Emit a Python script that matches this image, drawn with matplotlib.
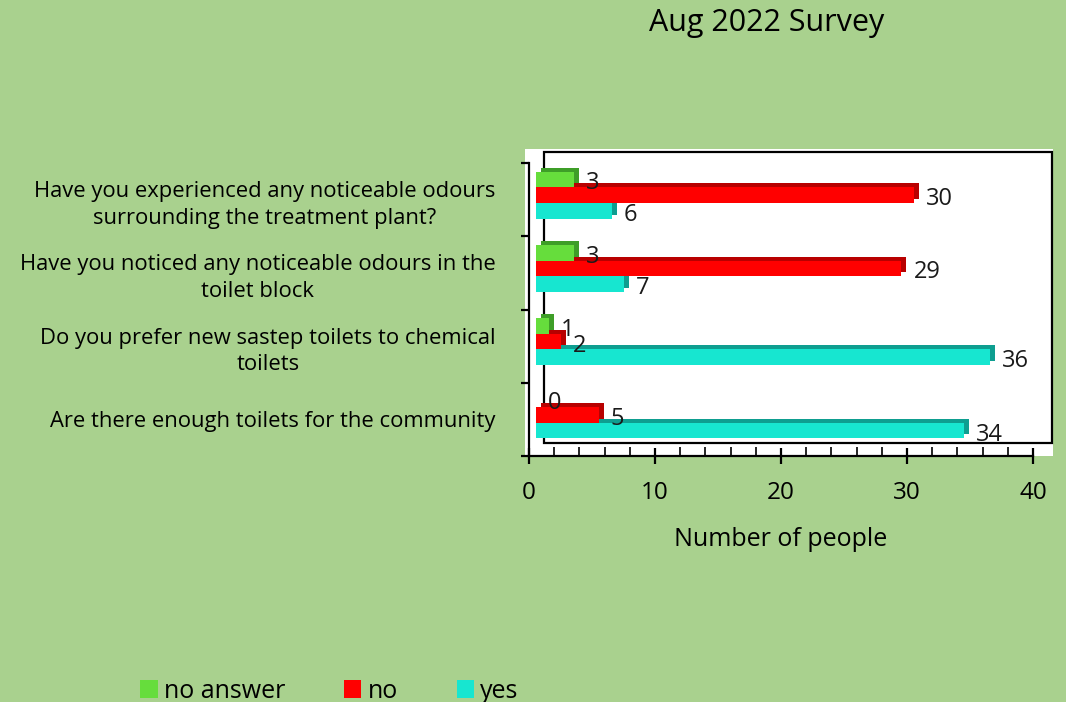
import matplotlib
matplotlib.use("Agg")
import matplotlib.pyplot as plt
from matplotlib.patches import Rectangle, Patch
from matplotlib.transforms import ScaledTranslation
import numpy as np

plt.rcParams['font.family'] = ['Open Sans', 'DejaVu Sans']

# ---------------- data ----------------
questions = [
    "Have you experienced any noticeable odours\nsurrounding the treatment plant?",
    "Have you noticed any noticeable odours in the\ntoilet block",
    "Do you prefer new sastep toilets to chemical\ntoilets",
    "Are there enough toilets for the community",
]
series_names = ["no answer", "no", "yes"]
no_answer = [3, 3, 1, 0]
no = [30, 29, 2, 5]
yes = [6, 7, 36, 34]
x_ticks = [0, 10, 20, 30, 40]
title = "Aug 2022 Survey"
x_label = "Number of people"

# ---------------- style ----------------
BG = '#A9D18E'
front_colors = ['#66DD3C', '#FF0000', '#17E6D0']
side_colors = ['#3E9E28', '#B80000', '#0E9E90']

W, H = 1066, 702
fig = plt.figure(figsize=(W / 100, H / 100), dpi=100, facecolor=BG)


def fx(x):
    return x / W


def fy(y):
    return 1 - y / H


# white plot area and back wall
fig.patches.append(Rectangle((fx(525), fy(456)), (1053 - 525) / W, (456 - 149) / H,
                             transform=fig.transFigure, fc='white', ec='none', zorder=-2))
fig.patches.append(Rectangle((fx(544), fy(443)), (1052 - 544) / W, (443 - 152) / H,
                             transform=fig.transFigure, fc='none', ec='black', lw=1.6, zorder=-1))

# main (front) axes
ax = fig.add_axes([fx(529), fy(456), 504 / W, 293 / H])
ax.set_zorder(1)
ax.set_facecolor('none')
ax.set_xlim(0, 40)
ax.set_ylim(len(questions) - 0.5, -0.5)
for s in ['top', 'right']:
    ax.spines[s].set_visible(False)
for s in ['left', 'bottom']:
    ax.spines[s].set_linewidth(1.6)
ax.set_xticks(x_ticks)
ax.set_xticks(np.arange(0, 41, 2), minor=True)
ax.tick_params(axis='x', which='major', direction='inout', length=12, width=1.6,
               labelsize=17.5, pad=12)
ax.tick_params(axis='x', which='minor', direction='in', length=6.5, width=1.2)
ax.set_yticks(np.arange(-0.5, len(questions), 1.0))
ax.set_yticklabels([])
ax.set_yticks(np.arange(len(questions)), minor=True)
ax.set_yticklabels(questions, minor=True, fontsize=15.8, multialignment='center',
                   linespacing=1.35)
ax.tick_params(axis='y', which='major', direction='out', length=6, width=1.6)
ax.tick_params(axis='y', which='minor', length=0, pad=24)
ax.set_xlabel(x_label, fontsize=18, labelpad=16)

# bar plane axes (3D-like depth, slightly shifted)
axb = fig.add_axes([fx(536), fy(456 - 4.5), 504 / W, 293 / H])
axb.set_zorder(2)
axb.set_xlim(0, 40)
axb.set_ylim(len(questions) - 0.5, -0.5)
axb.axis('off')
axb.patch.set_alpha(0)

h = 0.214
pos = np.arange(len(questions))
all_vals = [no_answer, no, yes]
shift = ScaledTranslation(5 / 100, 4 / 100, fig.dpi_scale_trans)
handles = []
# draw bottom series first so upper bars sit in front of lower bars' top faces
for i in [2, 1, 0]:
    vals = all_vals[i]
    y = pos + (i - 1) * h
    z = 2 * (3 - i)
    axb.barh(y, vals, height=h, color=side_colors[i], zorder=z,
             transform=axb.transData + shift)
    axb.barh(y, vals, height=h, color=front_colors[i], zorder=z + 1)
    for yy, v in zip(y, vals):
        axb.annotate(str(v), xy=(v, yy), xytext=(12, -4), textcoords='offset pixels',
                     ha='left', va='center', fontsize=17, color='#1a1a1a',
                     zorder=10, annotation_clip=False)

for i in range(3):
    handles.append(Patch(facecolor=front_colors[i], edgecolor='none', label=series_names[i]))

fig.text(fx(767), fy(23), title, ha='center', va='center', fontsize=22)

fig.legend(handles=handles, loc='center left', bbox_to_anchor=(fx(130), fy(691)),
           ncol=3, frameon=False, fontsize=18, handlelength=0.7, handleheight=0.7,
           handletextpad=0.25, columnspacing=2.35, borderaxespad=0)

fig.savefig('out.png', dpi=100, facecolor=BG)
